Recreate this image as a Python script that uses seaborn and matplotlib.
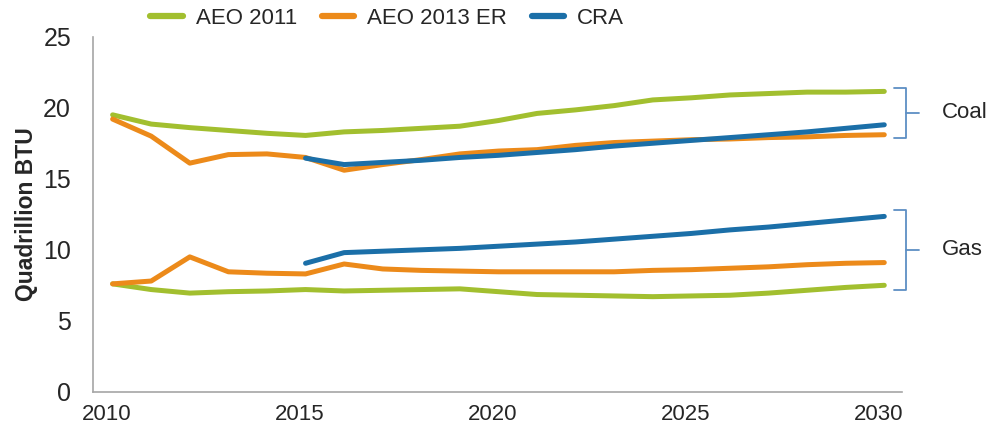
import pandas as pd
import matplotlib.pyplot as plt
from matplotlib.lines import Line2D
import seaborn as sns

years = list(range(2010, 2031))
cra_years = list(range(2015, 2031))

# Coal
coal_aeo2011 = [19.5, 18.85, 18.6, 18.4, 18.2, 18.05, 18.3, 18.4, 18.55, 18.7, 19.1,
                19.6, 19.85, 20.15, 20.55, 20.7, 20.9, 21.0, 21.1, 21.1, 21.15]
coal_aeo2013 = [19.2, 18.0, 16.1, 16.7, 16.75, 16.5, 15.6, 16.0, 16.35, 16.75, 16.95,
                17.05, 17.35, 17.55, 17.65, 17.75, 17.8, 17.9, 17.95, 18.05, 18.1]
coal_cra = [16.45, 16.0, 16.15, 16.3, 16.5, 16.65, 16.85, 17.05, 17.3, 17.5, 17.7,
            17.9, 18.1, 18.3, 18.55, 18.8]

# Gas
gas_aeo2011 = [7.6, 7.2, 6.95, 7.05, 7.1, 7.2, 7.1, 7.15, 7.2, 7.25, 7.05,
               6.85, 6.8, 6.75, 6.7, 6.75, 6.8, 6.95, 7.15, 7.35, 7.5]
gas_aeo2013 = [7.6, 7.8, 9.5, 8.45, 8.35, 8.3, 9.0, 8.65, 8.55, 8.5, 8.45,
               8.45, 8.45, 8.45, 8.55, 8.6, 8.7, 8.8, 8.95, 9.05, 9.1]
gas_cra = [9.05, 9.8, 9.9, 10.0, 10.1, 10.25, 10.4, 10.55, 10.75, 10.95, 11.15,
           11.4, 11.6, 11.85, 12.1, 12.35]

series_names = ['AEO 2011', 'AEO 2013 ER', 'CRA']
colors = ['#a2bf2f', '#ec8a1a', '#1b6fa8']
tick_years = [2010, 2015, 2020, 2025, 2030]
y_ticks = [0, 5, 10, 15, 20, 25]


def build_frame():
    parts = []
    for fuel, vals in [('Coal', [coal_aeo2011, coal_aeo2013, coal_cra]),
                       ('Gas', [gas_aeo2011, gas_aeo2013, gas_cra])]:
        for name, v in zip(series_names, vals):
            yrs = cra_years if name == 'CRA' else years
            parts.append(pd.DataFrame({'year': yrs, 'value': v,
                                       'series': name, 'fuel': fuel}))
    return pd.concat(parts, ignore_index=True)


def plot(df):
    sns.set_style('white')
    plt.rcParams['font.family'] = ['Liberation Sans', 'DejaVu Sans']
    fig = plt.figure(figsize=(9.93, 4.32), dpi=100)
    ax = fig.add_axes([0.094, 0.093, 0.814, 0.822])

    sns.lineplot(data=df, x='year', y='value', hue='series', units='fuel',
                 estimator=None, palette=dict(zip(series_names, colors)),
                 hue_order=series_names, linewidth=3.6, legend=False, ax=ax,
                 solid_capstyle='round')

    ax.set_xlim(2009.5, 2030.45)
    ax.set_ylim(0, 25)
    # tick marks sit between categories like the original category axis
    ax.set_xticks([y - 0.5 for y in tick_years])
    ax.set_xticklabels([])
    ax.set_xticks([y - 0.15 for y in tick_years], minor=True)
    ax.set_xticklabels([str(y) for y in tick_years], minor=True, fontsize=16)
    ax.tick_params(axis='x', which='major', length=7, width=1, color='#a6a6a6',
                   direction='inout')
    ax.tick_params(axis='x', which='minor', length=0, pad=9)
    ax.set_yticks(y_ticks)
    ax.set_yticklabels([str(v) for v in y_ticks], fontsize=18)
    ax.tick_params(axis='y', length=0, pad=16)
    ax.set_xlabel('')
    ax.set_ylabel('Quadrillion BTU', fontsize=16.5, fontweight='bold', labelpad=4)

    for side in ['top', 'right']:
        ax.spines[side].set_visible(False)
    for side in ['left', 'bottom']:
        ax.spines[side].set_color('#a6a6a6')
        ax.spines[side].set_linewidth(1.2)

    # brackets for the two groups
    bc = '#5d8fc4'
    for top, bot, label in [(21.4, 17.9, 'Coal'), (12.8, 7.2, 'Gas')]:
        mid = (top + bot) / 2
        ax.plot([2030.26, 2030.57, 2030.57, 2030.26], [top, top, bot, bot],
                color=bc, lw=1.3, clip_on=False)
        ax.plot([2030.57, 2030.9], [mid, mid], color=bc, lw=1.3, clip_on=False)
        ax.text(2031.5, mid, label, fontsize=16, va='center', ha='left')

    handles = [Line2D([0], [0], color=c, lw=4.5) for c in colors]
    fig.legend(handles, series_names, loc='center', bbox_to_anchor=(0.39, 0.958),
               ncol=3, frameon=False, fontsize=16, handlelength=1.45,
               columnspacing=1.1, handletextpad=0.6)

    fig.savefig('out.png', dpi=100)


def main():
    df = build_frame()
    plot(df)


if __name__ == "__main__":
    main()
